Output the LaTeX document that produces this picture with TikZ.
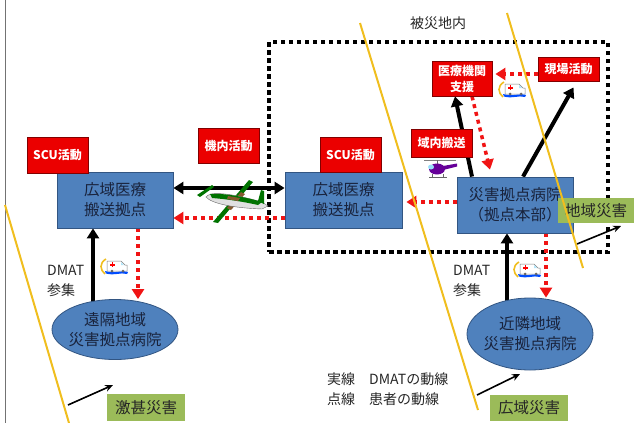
\documentclass[tikz,border=0pt]{standalone}
\usepackage{fontspec}
\setmainfont{Noto Sans CJK JP}
\usetikzlibrary{arrows.meta,shapes.geometric}

\definecolor{boxblue}{RGB}{79,129,189}
\definecolor{boxblueline}{RGB}{50,85,130}
\definecolor{navytext}{RGB}{25,35,60}
\definecolor{alertred}{RGB}{235,0,0}
\definecolor{alertline}{RGB}{130,0,0}
\definecolor{zonegreen}{RGB}{155,187,89}
\definecolor{borderyellow}{RGB}{240,190,30}
\definecolor{dotred}{RGB}{240,20,20}

\pgfdeclarelayer{frame}
\pgfdeclarelayer{flow}
\pgfdeclarelayer{over}
\pgfsetlayers{frame,flow,main,over}

\tikzset{
  redbox/.style={draw=alertline, line width=0.8pt, fill=alertred, text=white,
    font=\fontsize{12}{16}\selectfont\bfseries, inner sep=0pt, align=center},
  bluebox/.style={draw=boxblueline, line width=0.8pt, fill=boxblue, text=navytext,
    font=\fontsize{15.5}{20}\selectfont, inner sep=0pt, align=center},
  greenbox/.style={fill=zonegreen, text=black!85,
    font=\fontsize{15.5}{18}\selectfont, inner sep=0pt},
  hospital/.style={ellipse, draw=boxblueline, line width=0.8pt, fill=boxblue, inner sep=0pt},
  hosptext/.style={text=navytext, font=\fontsize{15.5}{20}\selectfont, align=center, inner sep=0pt},
  dmatflow/.style={line width=4pt, -{Triangle[length=10pt,width=12pt]}},
  patientflow/.style={dotred, line width=3.5pt, dash pattern=on 4pt off 4pt,
    -{Triangle[length=10pt,width=12pt]}},
  twoway/.style={line width=4pt, {Triangle[length=10pt,width=12pt]}-{Triangle[length=10pt,width=12pt]}},
  pointer/.style={line width=1.6pt, -{Stealth[length=8pt,width=7pt]}},
  zoneline/.style={borderyellow, line width=2pt},
  areaframe/.style={draw, line width=4pt, dash pattern=on 4.5pt off 3.5pt, inner sep=0pt},
  caption/.style={text=black!85, font=\fontsize{14}{20}\selectfont, align=left, inner sep=0pt},
  ambulance/.pic={
    \draw[borderyellow, line width=1.6pt] (-9,-8) .. controls (-16,-4) and (-15,3) .. (-10,7);
    \filldraw[fill=white, draw=black!50, line width=0.5pt]
      (-8,-6) -- (6,-6) -- (10,-2) -- (12,-2) -- (12,4) -- (-8,4) -- cycle;
    \fill[red] (-3.3,-4.8) rectangle (-1.7,0.4);
    \fill[red] (-5.1,-3) rectangle (0.1,-1.4);
    \fill[cyan!30] (6,-5) -- (9,-2) -- (6,-2) -- cycle;
    \fill[blue!70!cyan] (-10,4) .. controls (0,7) and (5,3) .. (13,5)
      -- (12,7) .. controls (5,5) and (0,9) .. (-9,6.5) -- cycle;
    \fill[black!60] (-3,4) circle (1.5) (8,4) circle (1.5);
  }
}

\begin{document}
\begin{tikzpicture}[x=1pt,y=-1pt]
\useasboundingbox (0,0) rectangle (640,423);

% page edge on the left
\draw[black!55, line width=1pt] (5,0) -- (5,423);

% affected area
\begin{pgfonlayer}{frame}
  \node[areaframe, minimum width=339pt, minimum height=210pt] (area) at (438.5,147) {};
\end{pgfonlayer}
\node[caption] (areaname) at (438,23) {被災地内};

% staging bases and hospitals
\node[bluebox, minimum width=116pt, minimum height=56pt] (baseL) at (115,200) {広域医療\\搬送拠点};
\node[bluebox, minimum width=117pt, minimum height=56pt] (baseM) at (343.5,200) {広域医療\\搬送拠点};
\node[bluebox, minimum width=116pt, minimum height=56pt] (hq) at (515,205) {災害拠点病院\\（拠点本部）};

\node[hospital, minimum width=126pt, minimum height=60pt] (ellL) at (115,329.5) {};
\node[hosptext] (ellLt) at (ellL) {遠隔地域\\災害拠点病院};
\node[hospital, minimum width=126pt, minimum height=72pt] (ellR) at (530,334) {};
\node[hosptext] (ellRt) at (ellR) {近隣地域\\災害拠点病院};

% activity labels
\node[redbox, minimum width=61pt, minimum height=36pt] (scuL) at (57.5,155) {SCU活動};
\node[redbox, minimum width=61pt, minimum height=35pt] (onboard) at (228.5,145.5) {機内活動};
\node[redbox, minimum width=61pt, minimum height=35pt] (scuM) at (350.5,154.5) {SCU活動};
\node[redbox, minimum width=61pt, minimum height=28pt] (local) at (441.5,143) {域内搬送};
\node[redbox, minimum width=60pt, minimum height=35pt] (support) at (462,78.5) {医療機関\\支援};
\node[redbox, minimum width=61pt, minimum height=24pt] (field) at (568.5,69) {現場活動};

% disaster scale labels
\node[greenbox, minimum width=78pt, minimum height=27pt] (severe) at (146,407.5) {激甚災害};
\node[greenbox, minimum width=78pt, minimum height=26pt] (wide) at (529,408) {広域災害};
\node[greenbox, minimum width=76pt, minimum height=25pt] (regional) at (596,210.5) {地域災害};

% DMAT and patient flows
\begin{pgfonlayer}{flow}
  \draw[twoway] ([yshift=12pt]baseL.east) -- ([yshift=12pt]baseM.west);
  \draw[patientflow] ([yshift=-18pt]baseM.west) -- ([yshift=-18pt]baseL.east);
  \draw[patientflow] ([yshift=3pt]hq.west) -- ([xshift=4pt,yshift=-2pt]baseM.east);
  \draw[dmatflow] ([xshift=-22pt,yshift=-6pt]ellL.north) -- ([xshift=-22pt]baseL.south);
  \draw[patientflow] ([xshift=23pt]baseL.south) -- ([xshift=23pt]ellL.north);
  \draw[dmatflow] ([xshift=-23pt,yshift=-6pt]ellR.north) -- ([xshift=-8pt]hq.south);
  \draw[patientflow] ([xshift=31pt]hq.south) -- ([xshift=16pt]ellR.north);
  \draw[dmatflow] ([xshift=-43pt]hq.north) -- ([xshift=-7pt]support.south);
  \draw[dmatflow] ([xshift=8pt]hq.north) -- ([xshift=5pt,yshift=-6pt]field.south);
  \draw[patientflow] ([xshift=10pt]support.south) -- ([xshift=-25pt,yshift=7pt]hq.north);
  \draw[patientflow] ([yshift=-5pt]field.west) -- ([xshift=3pt,yshift=4.5pt]support.east);
\end{pgfonlayer}

% DMAT gathering and legend
\node[caption, anchor=west] (gatherL) at (47,281) {DMAT\\参集};
\node[caption, anchor=west] (gatherR) at (453,281) {DMAT\\参集};
\node[caption, anchor=west] (legend) at (327,389.5)
  {実線\hspace{14pt}DMATの動線\\点線\hspace{14pt}患者の動線};

% pointers to the disaster scale labels
\coordinate (severeFoot) at (68,405);
\coordinate (severeTip) at (113,385);
\coordinate (wideFoot) at (477,395);
\coordinate (wideTip) at (520,374);
\coordinate (regionalFoot) at (577,244);
\coordinate (regionalTip) at (621,226);
\draw[pointer] (severeFoot) -- (severeTip);
\draw[pointer] (wideFoot) -- (wideTip);
\draw[pointer] (regionalFoot) -- (regionalTip);

% transport aircraft
\fill[green!45!black] (249,180) -- (253,182) -- (218,223) -- (213,222) -- cycle;
\fill[brown!70!black] (241,192) -- (245,194) -- (231,210) -- (227,208) -- cycle;
\filldraw[fill=black!12, draw=black!60, line width=0.4pt]
  (206,197) .. controls (210,191) and (230,193) .. (262,202) -- (268,206)
  -- (262,209) .. controls (235,208) and (212,204) .. (206,197) -- cycle;
\fill[green!45!black] (210,194) .. controls (225,193) and (245,197) .. (262,202)
  -- (258,205) .. controls (240,201) and (225,199) .. (212,198) -- cycle;
\fill[brown!70!black] (228,196) -- (240,198) -- (238,201) -- (227,199) -- cycle;
\fill[green!45!black] (258,201) -- (261,190) -- (264,191) -- (264,204) -- cycle;
\fill[green!45!black] (197,195) -- (212,185) -- (214,187) -- (200,197) -- cycle;

% helicopter
\draw[black!50, line width=0.8pt] (424,160) -- (456,160);
\draw[black!60, line width=0.8pt] (437,160) -- (437,164);
\fill[violet!80!blue] (437,169) ellipse (8 and 5.5);
\fill[violet!80!blue] (443,166) -- (457,163.5) -- (457,166.5) -- (443,170) -- cycle;
\fill[cyan!40] (431,167) ellipse (3 and 2.5);
\draw[black!60, line width=0.8pt] (429,177) -- (447,177) (432,174) -- (432,177) (443,174) -- (443,177);

% ambulances
\pic at (115,267) {ambulance};
\pic at (528,270) {ambulance};
\pic at (513,90) {ambulance};

% boundaries between disaster scales
\begin{pgfonlayer}{over}
  \draw[zoneline] (5,205) -- (69,423);
  \draw[zoneline] (360,23) -- (478,410);
  \draw[zoneline] (507,13) -- (583,268);
\end{pgfonlayer}
\end{tikzpicture}
\end{document}
